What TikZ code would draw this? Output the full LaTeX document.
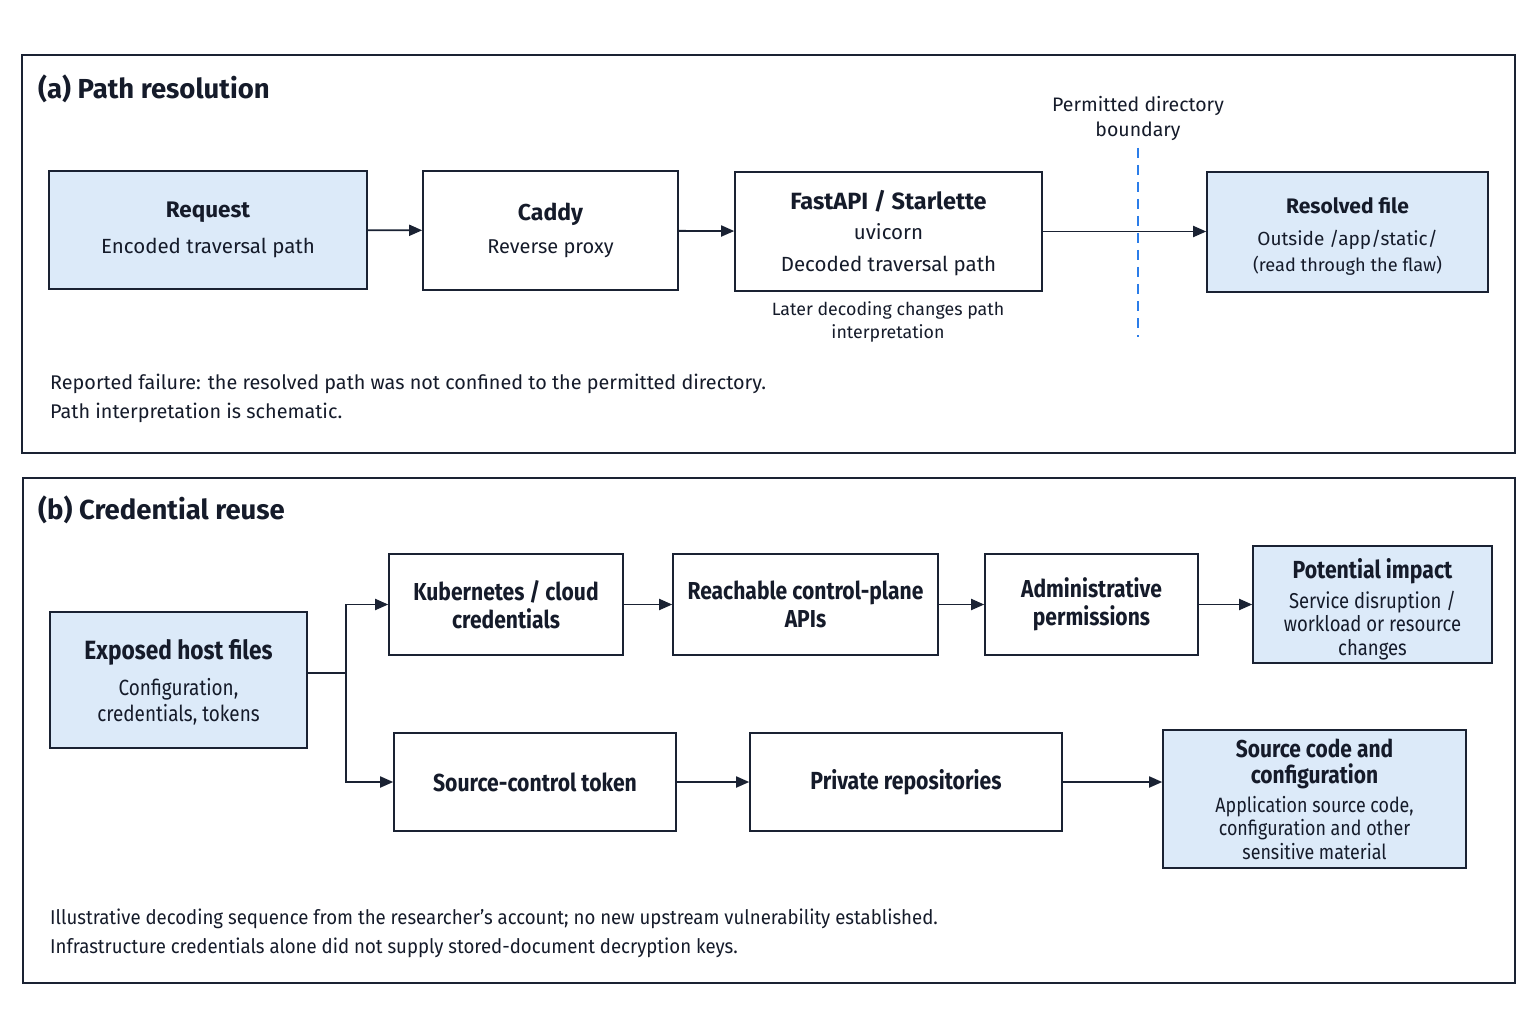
\documentclass[tikz,border=0pt]{standalone}
\usepackage{fontspec}
\setmainfont{Fira Sans}
\newfontfamily\condfont[FakeStretch=0.86]{Fira Sans}
\newfontfamily\semicond[FakeStretch=0.93]{Fira Sans}
\usetikzlibrary{arrows.meta,calc}
\definecolor{navy}{HTML}{1A2233}
\definecolor{inkc}{HTML}{151B2A}
\definecolor{boxblue}{HTML}{DCEAF9}
\definecolor{dashblue}{HTML}{2B7DE9}
\begin{document}
\begin{tikzpicture}[x=1pt,y=-1pt,
  panel/.style={draw=navy,line width=1.4pt},
  bx/.style={draw=navy,line width=1.6pt,align=center,inner sep=0pt,text=inkc},
  hl/.style={bx,fill=boxblue},
  conn/.style={draw=navy,line width=1.8pt,-{Triangle[length=13pt,width=11pt]}},
  plain/.style={draw=navy,line width=1.8pt},
  ttl/.style={anchor=base west,inner sep=0pt,text=inkc,font=\fontsize{27.5}{30}\selectfont\bfseries},
  lbl/.style={inner sep=0pt,text=inkc,align=center}
]
\useasboundingbox (0,0) rectangle (1536,1024);
\fill[white] (0,0) rectangle (1536,1024);

% ---------- panel (a)
\draw[panel] (22,55) rectangle (1515,453);
\node[ttl] (ta) at (38,99) {(a) Path resolution};

\node[hl,minimum width=318pt,minimum height=118pt,font=\fontsize{20.5}{26}\selectfont] (req) at (208,230)
  {{\fontsize{22.5}{26}\selectfont\bfseries Request}\\[10pt]Encoded traversal path};
\node[bx,minimum width=255pt,minimum height=119pt,font=\fontsize{20}{26}\selectfont] (caddy) at (550.5,230.5)
  {{\fontsize{23}{26}\selectfont\bfseries Caddy}\\[7pt]Reverse proxy};
\node[bx,minimum width=307pt,minimum height=119pt,font=\fontsize{20.5}{31}\selectfont] (fast) at (888.5,231.5)
  {{\fontsize{23.5}{26}\selectfont\bfseries\rule{0pt}{22.5pt}FastAPI / Starlette}\\[-1pt]uvicorn\\[1pt]Decoded traversal path};
\node[hl,minimum width=281pt,minimum height=120pt,font=\fontsize{19}{26}\selectfont] (res) at (1347.5,232)
  {{\fontsize{21}{26}\selectfont\bfseries\rule{0pt}{24.5pt}Resolved file}\\[6pt]Outside /app/static/\\{\fontsize{18.2}{26}\selectfont (read through the flaw)}};

\node[lbl,font=\fontsize{17.8}{23.5}\selectfont] (later) at (888,322) {Later decoding changes path\\interpretation};
\node[lbl,font=\fontsize{19.5}{25}\selectfont] (perm) at (1138,118) {Permitted directory\\boundary};
\coordinate (dtop) at (1138,148);
\coordinate (dbot) at (1138,337);
\draw[dashblue,line width=2.4pt,dash pattern=on 10pt off 7pt] (dtop) -- (dbot);

\draw[conn] (req) -- (caddy);
\draw[conn] (caddy) -- (fast);
\draw[conn] (fast.east) -- (fast.east -| res.west);

\node[anchor=base west,inner sep=0pt,text=inkc,align=left,font=\fontsize{19.8}{29}\selectfont] (na) at (50,418)
  {Reported failure: the resolved path was not confined to the permitted directory.\\Path interpretation is schematic.};

% ---------- panel (b)
\draw[panel] (23,478) rectangle (1515,983);
\node[ttl] (tb) at (38,519) {(b) Credential reuse};

\node[hl,minimum width=257pt,minimum height=136pt,font=\condfont\fontsize{22}{26}\selectfont] (exp) at (178.5,680)
  {{\condfont\fontsize{26.4}{28}\selectfont\bfseries\rule{0pt}{25.5pt}Exposed host files}\\[10pt]Configuration,\\credentials, tokens};
\node[bx,minimum width=234pt,minimum height=101pt,font=\condfont\fontsize{24.5}{28}\selectfont\bfseries] (kub) at (506,604.5)
  {Kubernetes / cloud\\credentials};
\node[bx,minimum width=265pt,minimum height=101pt,font=\condfont\fontsize{24.5}{28}\selectfont\bfseries] (reach) at (805.5,604.5)
  {Reachable control-plane\\APIs};
\node[bx,minimum width=213pt,minimum height=101pt,font=\condfont\fontsize{24.5}{28}\selectfont\bfseries] (admin) at (1091.5,604.5)
  {Administrative\\permissions};
\node[hl,minimum width=239pt,minimum height=117pt,font=\condfont\fontsize{21.5}{23.5}\selectfont] (imp) at (1372.5,604.5)
  {{\condfont\fontsize{24.7}{28}\selectfont\bfseries\rule{0pt}{29.5pt}Potential impact}\\[6.5pt]Service disruption /\\workload or resource\\changes};
\node[bx,minimum width=282pt,minimum height=98pt,font=\condfont\fontsize{24.6}{28}\selectfont\bfseries] (tok) at (535,782)
  {Source-control token};
\node[bx,minimum width=312pt,minimum height=98pt,font=\condfont\fontsize{24.7}{28}\selectfont\bfseries] (priv) at (906,782)
  {Private repositories};
\node[hl,minimum width=303pt,minimum height=138pt,font=\condfont\fontsize{20.75}{23.5}\selectfont] (src) at (1314.5,799)
  {{\condfont\fontsize{24.4}{26}\selectfont\bfseries Source code and}\\[2.5pt]{\condfont\fontsize{24.4}{26}\selectfont\bfseries configuration}\\[5.5pt]Application source code,\\configuration and other\\sensitive material};

\coordinate (br) at (346,673);
\draw[plain] (br -| exp.east) -- (br);
\draw[conn] (br) |- (kub.west);
\draw[conn] (br) |- (tok.west);
\draw[conn] (kub) -- (reach);
\draw[conn] (reach) -- (admin);
\draw[conn] (admin.east) -- (admin.east -| imp.west);
\draw[conn] (tok) -- (priv);
\draw[conn] (priv.east) -- (priv.east -| src.west);

\node[anchor=base west,inner sep=0pt,text=inkc,align=left,font=\semicond\fontsize{20}{29}\selectfont] (nb) at (50,953)
  {Illustrative decoding sequence from the researcher’s account; no new upstream vulnerability established.\\Infrastructure credentials alone did not supply stored-document decryption keys.};
\end{tikzpicture}
\end{document}
